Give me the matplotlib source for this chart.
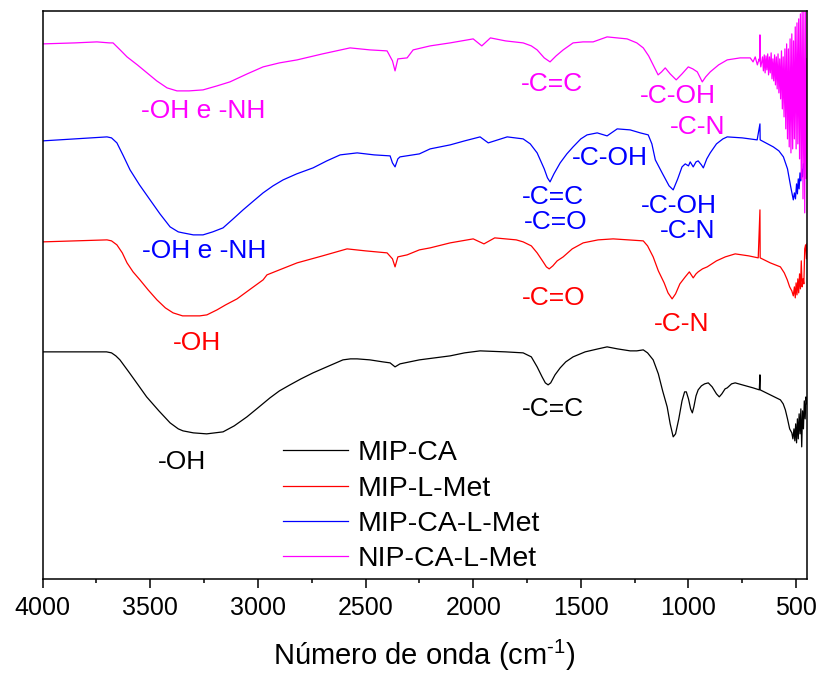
import numpy as np
import matplotlib
matplotlib.use('Agg')
import matplotlib.pyplot as plt
from matplotlib.ticker import MultipleLocator

plt.rcParams['font.family'] = ['Liberation Sans', 'DejaVu Sans']
plt.rcParams['mathtext.fontset'] = 'custom'
plt.rcParams['mathtext.rm'] = 'Liberation Sans'

# spectra: wavenumber (cm-1) and offset signal (a.u.)
mip_ca_wn = [4000, 3850, 3703, 3680, 3660, 3641, 3600, 3560, 3517, 3460, 3408, 3370, 3348, 3300,
             3238, 3200, 3162, 3110, 3051, 3000, 2944, 2900, 2851, 2800, 2744, 2680, 2605, 2570,
             2539, 2480, 2420, 2386, 2363, 2340, 2250, 2107, 2040, 1968, 1850, 1768, 1730, 1703,
             1680, 1665, 1652, 1640, 1620, 1596, 1570, 1536, 1480, 1420, 1378, 1330, 1271, 1240,
             1210, 1190, 1164, 1140, 1120, 1099, 1085, 1071, 1060, 1045, 1030, 1018, 1010, 1000,
             990, 982, 975, 965, 955, 940, 925, 908, 890, 870, 857, 845, 830, 820, 800, 783,
             750, 700, 671, 668, 667, 620, 573, 560, 550, 540, 530, 520, 515, 510, 506, 502,
             498, 494, 490, 486, 482, 478, 474, 470, 466, 462, 458, 454, 450]
mip_ca = [227, 227, 227, 226, 223, 219, 207, 195, 182, 168, 156, 150, 148, 146,
          145, 146, 147, 153, 162, 171, 181, 188, 194, 200, 206, 212, 219, 220,
          220, 219, 217, 216, 212, 215, 219, 223, 226, 228, 227, 226, 222, 212,
          202, 196, 194, 196, 204, 211, 217, 222, 227, 230, 232, 230, 228, 228,
          229, 226, 219, 205, 188, 172, 155, 142, 145, 160, 178, 187, 187, 180,
          170, 166, 172, 183, 189, 193, 195, 196, 192, 185, 182, 185, 190, 191, 195, 196,
          194, 191, 189, 204, 189, 184, 179, 175, 169, 160, 150, 146, 140, 150, 138, 155,
          136, 160, 140, 165, 145, 170, 132, 168, 150, 178, 160, 182, 175]

mip_lmet_wn = [4000, 3850, 3701, 3680, 3655, 3630, 3608, 3580, 3548, 3510, 3469, 3430, 3394, 3350,
               3315, 3270, 3237, 3190, 3150, 3097, 3040, 2976, 2958, 2900, 2818, 2700, 2586, 2500,
               2400, 2375, 2363, 2350, 2307, 2250, 2200, 2107, 2000, 1950, 1900, 1800, 1768, 1730,
               1703, 1675, 1660, 1647, 1630, 1610, 1582, 1540, 1489, 1420, 1350, 1280, 1210, 1190,
               1164, 1140, 1113, 1095, 1076, 1060, 1040, 1015, 996, 978, 965, 955, 935, 913, 870,
               829, 783, 720, 676, 668, 667, 620, 573, 555, 541, 530, 520, 513, 508, 504, 500,
               496, 492, 488, 484, 480, 476, 472, 468, 464, 460, 456, 452, 450]
mip_lmet = [337, 338, 339, 338, 334, 326, 316, 307, 299, 289, 279, 271, 266, 263,
            263, 263, 264, 269, 274, 280, 289, 299, 304, 309, 316, 323, 330, 328,
            326, 320, 312, 322, 324, 329, 331, 336, 340, 335, 341, 339, 337, 333,
            326, 317, 312, 310, 313, 318, 322, 330, 336, 339, 340, 339, 338, 333,
            322, 308, 296, 286, 280, 285, 295, 302, 307, 301, 305, 307, 310, 312, 318,
            322, 325, 323, 321, 369, 321, 316, 312, 306, 299, 292, 288, 283, 292, 281, 296,
            284, 300, 286, 305, 290, 318, 292, 300, 295, 330, 334, 320, 335]

mip_ca_lmet_wn = [4000, 3850, 3701, 3680, 3655, 3625, 3594, 3550, 3501, 3455, 3408, 3370, 3348,
                  3300, 3255, 3210, 3162, 3115, 3069, 3020, 2976, 2930, 2883, 2820, 2744, 2680,
                  2618, 2539, 2460, 2386, 2375, 2363, 2350, 2340, 2250, 2200, 2107, 2040, 1968,
                  1930, 1842, 1768, 1735, 1703, 1670, 1655, 1643, 1625, 1596, 1565, 1536, 1500,
                  1471, 1424, 1378, 1331, 1271, 1224, 1187, 1170, 1154, 1120, 1090, 1071, 1050,
                  1030, 1015, 1000, 992, 978, 965, 955, 940, 931, 915, 899, 870, 840, 820, 750,
                  681, 668, 667, 606, 580, 559, 540, 525, 513, 508, 503, 498, 494, 490, 486,
                  482, 478, 474, 470, 466, 462, 458, 454, 450]
mip_ca_lmet = [438, 440, 442, 441, 436, 423, 409, 394, 379, 365, 352, 347, 346,
               344, 344, 347, 351, 360, 369, 378, 386, 393, 399, 405, 411, 418,
               424, 426, 424, 423, 416, 412, 420, 422, 425, 430, 434, 438, 442,
               436, 442, 440, 435, 426, 410, 401, 397, 405, 416, 425, 432, 440,
               444, 446, 443, 450, 449, 446, 444, 435, 419, 405, 393, 389, 400,
               412, 415, 413, 417, 412, 417, 418, 414, 411, 420, 426, 435, 440, 442, 441,
               439, 455, 439, 432, 428, 422, 410, 392, 379, 386, 380, 395, 385, 400, 390,
               406, 398, 410, 402, 415, 412, 429, 425, 440]

nip_ca_lmet_wn = [4000, 3850, 3748, 3690, 3673, 3640, 3608, 3560, 3515, 3470, 3422, 3376, 3320,
                  3255, 3190, 3130, 3050, 2976, 2900, 2818, 2700, 2572, 2480, 2400, 2375, 2363,
                  2350, 2307, 2279, 2200, 2107, 2000, 1960, 1920, 1850, 1768, 1730, 1703, 1670,
                  1643, 1615, 1582, 1536, 1490, 1443, 1378, 1330, 1285, 1240, 1210, 1185, 1164,
                  1141, 1125, 1108, 1085, 1057, 1030, 1001, 980, 959, 936, 920, 899, 860, 820,
                  760, 713, 700, 690, 680, 672, 669, 668, 667, 664, 656, 652, 648, 644, 640,
                  636, 632, 628, 624, 620, 616, 612, 608, 604, 600, 596, 592, 588, 584, 580,
                  576, 572, 568, 564, 560, 556, 552, 548, 544, 540, 536, 532, 528, 524, 520,
                  516, 512, 508, 504, 500, 496, 492, 488, 484, 480, 476, 472, 468, 464, 460,
                  456, 452, 450]
nip_ca_lmet = [535, 536, 537, 536, 536, 529, 522, 514, 506, 498, 491, 488, 488,
               489, 493, 497, 505, 512, 516, 519, 525, 531, 529, 528, 518, 508,
               520, 521, 529, 533, 536, 540, 533, 541, 538, 536, 533, 529, 521,
               517, 523, 529, 536, 537, 537, 542, 541, 540, 536, 531, 523, 514,
               504, 507, 511, 505, 499, 505, 512, 510, 507, 497, 502, 507, 514, 519,
               521, 521, 517, 522, 514, 520, 518, 544, 518, 512, 522, 508, 524, 506, 523,
               509, 525, 504, 522, 506, 526, 500, 520, 498, 524, 494, 522, 490, 525, 486,
               520, 480, 528, 470, 522, 462, 530, 450, 535, 440, 530, 432, 540, 426, 545,
               430, 538, 440, 552, 430, 556, 435, 560, 420, 565, 400, 567, 380, 567, 366,
               567, 400, 520]

labels = ['MIP-CA', 'MIP-L-Met', 'MIP-CA-L-Met', 'NIP-CA-L-Met']
colors = ['#000000', '#ff0000', '#0000ff', '#ff00ff']

# band labels: text, wavenumber, height, series index
bands = [('-OH', 3353, 117, 0), ('-C=C', 1629, 170, 0),
         ('-OH', 3283, 236, 1), ('-C=O', 1624, 281, 1), ('-C-N', 1034, 255, 1),
         ('-OH e -NH', 3250, 328, 2), ('-C=C', 1629, 382, 2), ('-C=O', 1619, 357, 2),
         ('-C-OH', 1364, 421, 2), ('-C-OH', 1043, 373, 2), ('-C-N', 1006, 348, 2),
         ('-OH e -NH', 3255, 468, 3), ('-C=C', 1633, 495, 3), ('-C-OH', 1048, 483, 3),
         ('-C-N', 959, 452, 3)]

fig = plt.figure(figsize=(8.2, 6.81), dpi=100)
ax = fig.add_axes([0.052, 0.150, 0.932, 0.834])

series = [(mip_ca_wn, mip_ca), (mip_lmet_wn, mip_lmet),
          (mip_ca_lmet_wn, mip_ca_lmet), (nip_ca_lmet_wn, nip_ca_lmet)]
for (wn, y), lab, c in zip(series, labels, colors):
    ax.plot(wn, y, color=c, lw=0.9, label=lab)

for txt, x, y, i in bands:
    ax.text(x, y, txt, color=colors[i], fontsize=19, ha='center', va='center')

ax.set_xlim(4000, 450)
ax.set_ylim(0, 568)
ax.xaxis.set_major_locator(MultipleLocator(500))
ax.xaxis.set_minor_locator(MultipleLocator(250))
ax.tick_params(axis='x', which='major', direction='out', length=6.5, width=1.1,
               labelsize=18, pad=6)
ax.tick_params(axis='x', which='minor', direction='out', length=3.2, width=1.1)
ax.set_yticks([])
for s in ax.spines.values():
    s.set_linewidth(1.1)

ax.set_xlabel(r'Número de onda (cm$^{\text{-1}}$)', fontsize=21, labelpad=13)

ax.legend(loc='upper left', bbox_to_anchor=(0.314, 0.244), frameon=False,
          fontsize=20.5, handlelength=2.3, handletextpad=0.32, labelspacing=0.33,
          borderpad=0, borderaxespad=0)

fig.savefig('out.png', dpi=100)
